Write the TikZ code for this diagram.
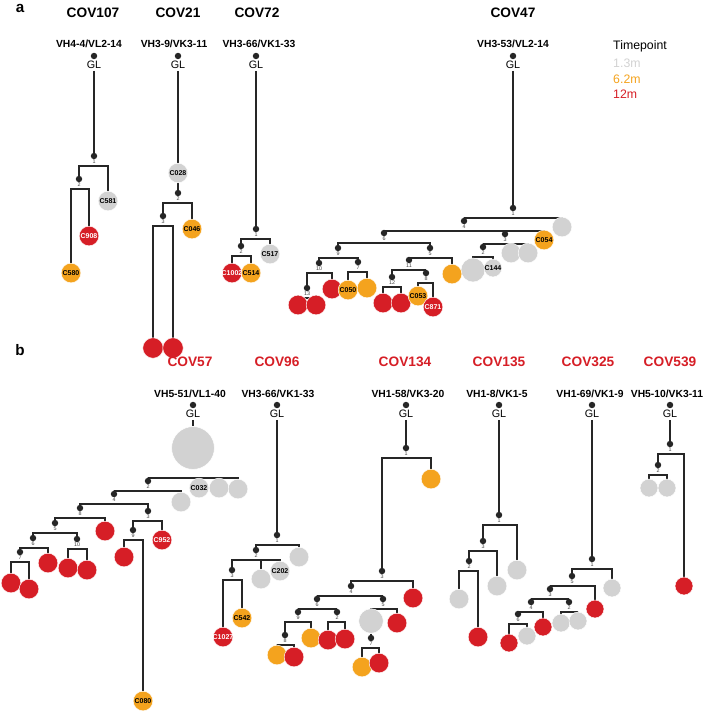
\documentclass[tikz,border=0pt]{standalone}
\usepackage{fontspec}
\setmainfont{Liberation Sans}
\usepackage{tikz}
\definecolor{tgray}{RGB}{210,210,210}
\definecolor{torange}{RGB}{244,163,30}
\definecolor{tred}{RGB}{214,30,38}
\pgfdeclarelayer{edges}
\pgfsetlayers{edges,main}
% elbow links from a parent dot to its children, under the circles
\newcommand\kids[3][10]{\begin{pgfonlayer}{edges}\foreach \ch in {#3}{\draw[br] (#2) ++(0,#1) -| (\ch);}\end{pgfonlayer}}
\newcommand\trunk[2]{\begin{pgfonlayer}{edges}\draw[br] (#1) -- (#2);\end{pgfonlayer}}
\newcommand\cid[1]{\makebox[0pt]{#1}}

\begin{document}
\begin{tikzpicture}[x=0.03cm, y=-0.03cm,
  dot/.style={circle, fill=black!85, inner sep=0pt, minimum size=5.5pt},
  num/.style={font=\fontsize{4.6}{4.6}\selectfont, inner sep=0pt, text=black!75},
  nd/.style={dot, label distance=0.3pt, label={[num]below:#1}},
  leaf/.style={circle, inner sep=0pt, minimum size=16.8pt, draw=white, line width=.4pt,
    font=\bfseries\fontsize{6}{6}\selectfont},
  gc/.style={leaf, fill=tgray},
  oc/.style={leaf, fill=torange},
  rc/.style={leaf, fill=tred, text=white},
  big/.style={minimum size=20.5pt},
  sm/.style={minimum size=15.3pt},
  br/.style={draw=black!85, line width=1pt},
  ttl/.style={font=\bfseries\fontsize{11.7}{13}\selectfont},
  rttl/.style={ttl, text=tred},
  gene/.style={font=\bfseries\fontsize{8.8}{10}\selectfont},
  gl/.style={font=\fontsize{9.2}{10}\selectfont, inner sep=1.5pt},
  lgd/.style={font=\fontsize{10.5}{12}\selectfont, anchor=west, inner sep=0pt},
  plbl/.style={font=\bfseries\fontsize{13}{14}\selectfont, inner sep=0pt}]
\useasboundingbox (0,0) rectangle (708,711);

%%% panel a
\node[plbl] (pa) at (20,8) {a};

% COV107
\node[ttl] (h107) at (93,13) {COV107};
\node[gene] (v107) at (89,44) {VH4-4/VL2-14};
\node[dot] (t107gd) at (94,56) {};
\node[gl] (t107gl) at (94,65) {GL};
\node[nd=1] (t107n1) at (94,156) {};
\node[nd=2] (t107n2) at (79,179) {};
\node[gc] (t107c581) at (108,201) {\cid{C581}};
\node[rc] (t107c908) at (89,236) {\cid{C908}};
\node[oc] (t107c580) at (71,273) {\cid{C580}};
\trunk{t107gl}{t107n1}
\kids{t107n1}{t107n2,t107c581}
\kids{t107n2}{t107c580,t107c908}

% COV21
\node[ttl] (h21) at (178,13) {COV21};
\node[gene] (v21) at (174,44) {VH3-9/VK3-11};
\node[dot] (t21gd) at (178,56) {};
\node[gl] (t21gl) at (178,65) {GL};
\node[gc] (t21c028) at (178,173) {\cid{C028}};
\node[nd=2] (t21n2) at (178,193) {};
\node[nd=3] (t21n3) at (163,216) {};
\node[oc] (t21c046) at (192,229) {\cid{C046}};
\node[rc, minimum size=17.5pt] (t21r1) at (153,348) {};
\node[rc, minimum size=17.5pt] (t21r2) at (173,348) {};
\trunk{t21gl}{t21c028}
\trunk{t21c028}{t21n2}
\kids{t21n2}{t21n3,t21c046}
\kids{t21n3}{t21r1,t21r2}

% COV72
\node[ttl] (h72) at (257,13) {COV72};
\node[gene] (v72) at (259,44) {VH3-66/VK1-33};
\node[dot] (t72gd) at (256,56) {};
\node[gl] (t72gl) at (256,65) {GL};
\node[nd=1] (t72n1) at (256,229) {};
\node[nd=2] (t72n2) at (241,246) {};
\node[gc] (t72c517) at (270,254) {\cid{C517}};
\node[rc] (t72c1002) at (232,273) {\cid{C1002}};
\node[oc] (t72c514) at (251,273) {\cid{C514}};
\trunk{t72gl}{t72n1}
\kids{t72n1}{t72n2,t72c517}
\kids{t72n2}{t72c1002,t72c514}

% COV47
\node[ttl] (h47) at (513,13) {COV47};
\node[gene] (v47) at (513,44) {VH3-53/VL2-14};
\node[dot] (t47gd) at (513,56) {};
\node[gl] (t47gl) at (513,65) {GL};
\node[nd=1] (t47n1) at (513,208) {};
\node[gc] (t47g1) at (562,227) {};
\node[nd=4] (t47n4) at (464,221) {};
\node[nd=6] (t47n6) at (384,233) {};
\node[nd=3] (t47n3) at (505,234) {};
\node[oc] (t47c054) at (544,240) {\cid{C054}};
\node[nd=2] (t47n2) at (483,247) {};
\node[gc] (t47g2) at (511,253) {};
\node[gc] (t47g3) at (528,253) {};
\node[gc, big] (t47g4) at (473,270) {};
\node[gc, sm] (t47c144) at (493,268) {\cid{C144}};
\node[nd=9] (t47n9) at (338,248) {};
\node[nd=5] (t47n5) at (430,248) {};
\node[nd=11] (t47n11) at (409,260) {};
\node[oc] (t47o1) at (452,274) {};
\node[nd=12] (t47n12) at (392,277) {};
\node[nd=8] (t47n8) at (426,273) {};
\node[rc] (t47r1) at (383,303) {};
\node[rc] (t47r2) at (401,303) {};
\node[oc] (t47c053) at (418,296) {\cid{C053}};
\node[rc] (t47c871) at (433,307) {\cid{C871}};
\node[nd=10] (t47n10) at (319,263) {};
\node[nd=7] (t47n7) at (358,262) {};
\node[nd=13] (t47n13) at (307,288) {};
\node[rc] (t47r3) at (332,289) {};
\node[rc] (t47r4) at (298,305) {};
\node[rc] (t47r5) at (316,305) {};
\node[oc] (t47c050) at (348,290) {\cid{C050}};
\node[oc] (t47o2) at (367,288) {};
\trunk{t47gl}{t47n1}
\kids{t47n1}{t47n4,t47g1}
\kids{t47n4}{t47n6,t47n3,t47c054}
\kids{t47n3}{t47n2,t47g2,t47g3}
\kids{t47n2}{t47g4,t47c144}
\kids{t47n6}{t47n9,t47n5}
\kids{t47n5}{t47n11,t47o1}
\kids{t47n11}{t47n12,t47n8}
\kids{t47n12}{t47r1,t47r2}
\kids{t47n8}{t47c053,t47c871}
\kids{t47n9}{t47n10,t47n7}
\kids{t47n10}{t47n13,t47r3}
\kids{t47n13}{t47r4,t47r5}
\kids{t47n7}{t47c050,t47o2}

% legend
\node[lgd] (lgt) at (613,46) {Timepoint};
\node[lgd, text=tgray] (lg1) at (613,63) {1.3m};
\node[lgd, text=torange] (lg2) at (613,79) {6.2m};
\node[lgd, text=tred] (lg3) at (613,94) {12m};

%%% panel b
\node[plbl] (pb) at (20,350) {b};

% COV57
\node[rttl] (h57) at (190,362) {COV57};
\node[gene] (v57) at (190,394) {VH5-51/VL1-40};
\node[dot] (t57gd) at (193,405) {};
\node[gl] (t57gl) at (193,414) {GL};
\node[gc, minimum size=36.5pt] (t57r) at (193,448) {};
\node[nd=2] (t57n2) at (148,481) {};
\node[gc] (t57c032) at (199,488) {\cid{C032}};
\node[gc] (t57g1) at (219,488) {};
\node[gc] (t57g2) at (238,489) {};
\node[nd=4] (t57n4) at (114,494) {};
\node[gc] (t57g3) at (181,502) {};
\node[nd=8] (t57n8) at (80,508) {};
\node[nd=3] (t57n3) at (148,511) {};
\node[nd=5] (t57n5) at (55,523) {};
\node[rc] (t57r1) at (105,531) {};
\node[nd=6] (t57n6) at (33,538) {};
\node[nd=10] (t57n10) at (77,539) {};
\node[nd=7] (t57n7) at (20,552) {};
\node[rc] (t57r2) at (48,563) {};
\node[rc] (t57r3) at (11,583) {};
\node[rc] (t57r4) at (29,589) {};
\node[rc] (t57r5) at (68,568) {};
\node[rc] (t57r6) at (87,570) {};
\node[nd=9] (t57n9) at (133,530) {};
\node[rc] (t57c952) at (162,540) {\cid{C952}};
\node[rc] (t57r7) at (124,557) {};
\node[oc] (t57c080) at (143,701) {\cid{C080}};
\trunk{t57gl}{t57r}
\kids[30]{t57r}{t57n2,t57c032,t57g1,t57g2}
\kids{t57n2}{t57n4,t57g3}
\kids{t57n4}{t57n8,t57n3}
\kids{t57n8}{t57n5,t57r1}
\kids{t57n5}{t57n6,t57n10}
\kids{t57n6}{t57n7,t57r2}
\kids{t57n7}{t57r3,t57r4}
\kids{t57n10}{t57r5,t57r6}
\kids{t57n3}{t57n9,t57c952}
\kids{t57n9}{t57r7,t57c080}

% COV96
\node[rttl] (h96) at (277,362) {COV96};
\node[gene] (v96) at (278,394) {VH3-66/VK1-33};
\node[dot] (t96gd) at (277,405) {};
\node[gl] (t96gl) at (277,414) {GL};
\node[nd=1] (t96n1) at (277,535) {};
\node[nd=2] (t96n2) at (256,550) {};
\node[gc] (t96g1) at (299,557) {};
\node[nd=3] (t96n3) at (232,570) {};
\node[gc] (t96g2) at (261,579) {};
\node[gc] (t96c202) at (280,571) {\cid{C202}};
\node[rc] (t96c1027) at (223,637) {\cid{C1027}};
\node[oc] (t96c542) at (242,618) {\cid{C542}};
\trunk{t96gl}{t96n1}
\kids{t96n1}{t96n2,t96g1}
\kids{t96n2}{t96n3,t96g2,t96c202}
\kids{t96n3}{t96c1027,t96c542}

% COV134
\node[rttl] (h134) at (405,362) {COV134};
\node[gene] (v134) at (408,394) {VH1-58/VK3-20};
\node[dot] (t134gd) at (406,405) {};
\node[gl] (t134gl) at (406,414) {GL};
\node[nd=1] (t134n1) at (406,448) {};
\node[oc] (t134o1) at (431,479) {};
\node[nd=3] (t134n3) at (382,571) {};
\node[rc] (t134r1) at (413,598) {};
\node[nd=4] (t134n4) at (351,586) {};
\node[nd=6] (t134n6) at (317,599) {};
\node[nd=5] (t134n5) at (383,599) {};
\node[nd=9] (t134n9) at (298,612) {};
\node[nd=2] (t134n2) at (337,612) {};
\node[nd=8] (t134n8) at (285,635) {};
\node[oc] (t134o2) at (311,638) {};
\node[oc] (t134o3) at (277,655) {};
\node[rc] (t134r2) at (294,657) {};
\node[rc] (t134r3) at (328,640) {};
\node[rc] (t134r4) at (345,639) {};
\node[gc, minimum size=21pt] (t134g1) at (371,621) {};
\node[rc] (t134r5) at (397,623) {};
\node[nd=7] (t134n7) at (371,638) {};
\node[oc] (t134o4) at (362,667) {};
\node[rc] (t134r6) at (379,663) {};
\trunk{t134gl}{t134n1}
\kids{t134n1}{t134n3,t134o1}
\kids{t134n3}{t134n4,t134r1}
\kids{t134n4}{t134n6,t134n5}
\kids{t134n6}{t134n9,t134n2}
\kids{t134n9}{t134n8,t134o2}
\kids{t134n8}{t134o3,t134r2}
\kids{t134n2}{t134r3,t134r4}
\kids{t134n5}{t134g1,t134r5}
\trunk{t134g1}{t134n7}
\kids{t134n7}{t134o4,t134r6}

% COV135
\node[rttl] (h135) at (499,362) {COV135};
\node[gene] (v135) at (497,394) {VH1-8/VK1-5};
\node[dot] (t135gd) at (499,405) {};
\node[gl] (t135gl) at (499,414) {GL};
\node[nd=1] (t135n1) at (499,515) {};
\node[nd=3] (t135n3) at (483,541) {};
\node[gc] (t135g1) at (517,570) {};
\node[nd=2] (t135n2) at (469,561) {};
\node[gc] (t135g2) at (497,586) {};
\node[gc] (t135g3) at (459,599) {};
\node[rc] (t135r1) at (478,637) {};
\trunk{t135gl}{t135n1}
\kids{t135n1}{t135n3,t135g1}
\kids{t135n3}{t135n2,t135g2}
\kids{t135n2}{t135g3,t135r1}

% COV325
\node[rttl] (h325) at (588,362) {COV325};
\node[gene] (v325) at (590,394) {VH1-69/VK1-9};
\node[dot] (t325gd) at (592,405) {};
\node[gl] (t325gl) at (592,414) {GL};
\node[nd=1] (t325n1) at (592,559) {};
\node[nd=5] (t325n5) at (572,576) {};
\node[gc, sm] (t325g1) at (612,588) {};
\node[nd=3] (t325n3) at (550,589) {};
\node[rc, sm] (t325r1) at (595,609) {};
\node[nd=4] (t325n4) at (531,602) {};
\node[nd=2] (t325n2) at (569,602) {};
\node[nd=6] (t325n6) at (518,614) {};
\node[rc, sm] (t325r2) at (543,627) {};
\node[gc, sm] (t325g2) at (527,636) {};
\node[rc, sm] (t325r3) at (509,643) {};
\node[gc, sm] (t325g3) at (561,623) {};
\node[gc, sm] (t325g4) at (578,621) {};
\trunk{t325gl}{t325n1}
\kids{t325n1}{t325n5,t325g1}
\kids{t325n5}{t325n3,t325r1}
\kids{t325n3}{t325n4,t325n2}
\kids{t325n4}{t325n6,t325r2}
\kids{t325n6}{t325r3,t325g2}
\kids{t325n2}{t325g3,t325g4}

% COV539
\node[rttl] (h539) at (670,362) {COV539};
\node[gene] (v539) at (667,394) {VH5-10/VK3-11};
\node[dot] (t539gd) at (670,405) {};
\node[gl] (t539gl) at (670,414) {GL};
\node[nd=1] (t539n1) at (670,444) {};
\node[nd=2] (t539n2) at (658,465) {};
\node[rc, sm] (t539r1) at (684,586) {};
\node[gc, sm] (t539g1) at (649,488) {};
\node[gc, sm] (t539g2) at (667,488) {};
\trunk{t539gl}{t539n1}
\kids{t539n1}{t539n2,t539r1}
\kids{t539n2}{t539g1,t539g2}
\end{tikzpicture}
\end{document}
